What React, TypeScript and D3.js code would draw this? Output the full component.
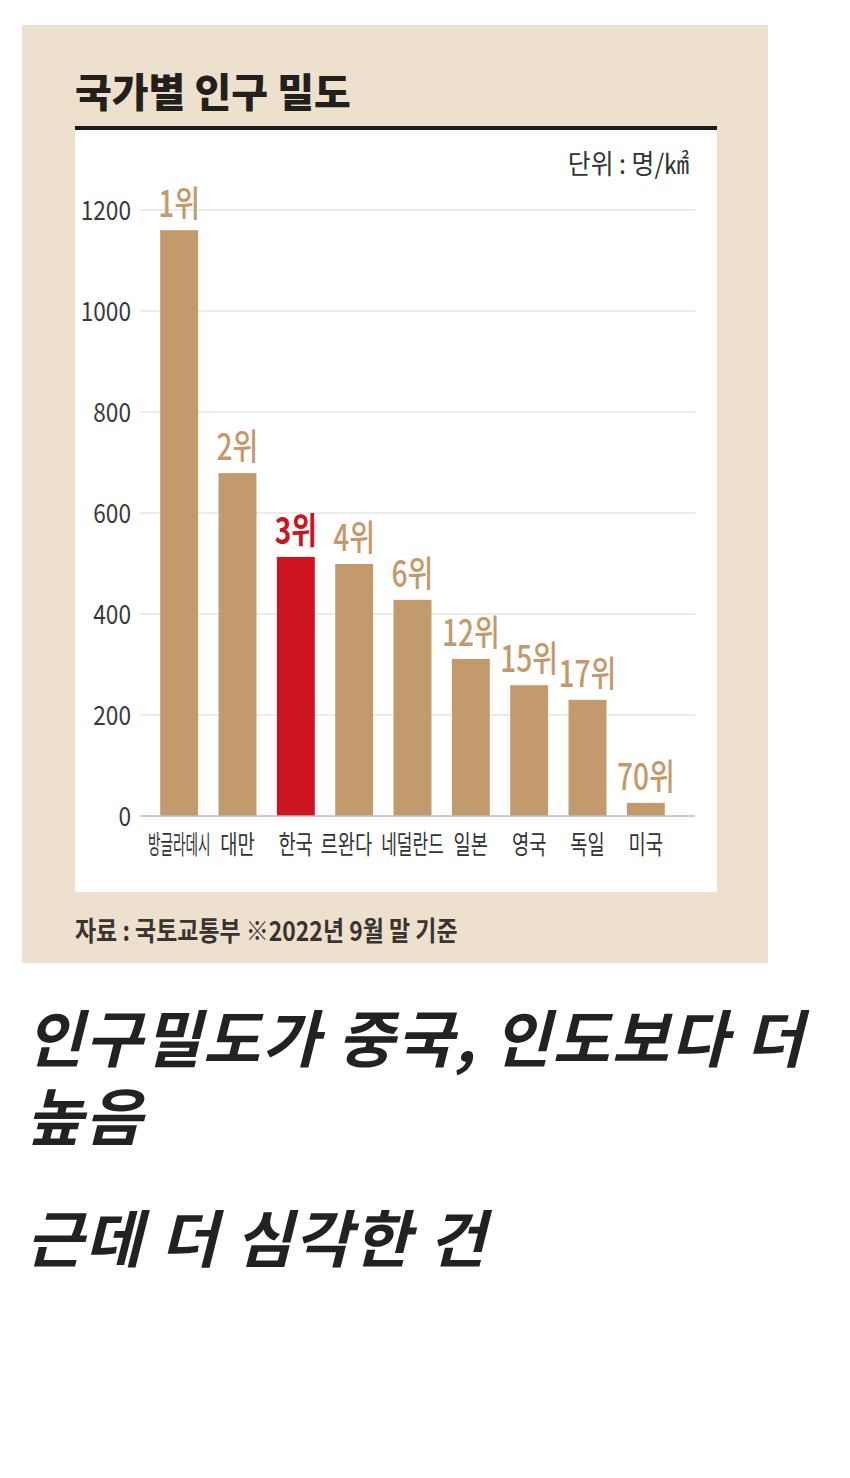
import React from 'react';
import * as d3 from 'd3';

const countries = ['방글라데시', '대만', '한국', '르완다', '네덜란드', '일본', '영국', '독일', '미국'];
const density = [1160, 679, 513, 499, 428, 311, 259, 230, 26];
const ranks = ['1위', '2위', '3위', '4위', '6위', '12위', '15위', '17위', '70위'];
const yTicks = [0, 200, 400, 600, 800, 1000, 1200];
const highlight = '한국';

const title = '국가별 인구 밀도';
const unitLabel = '단위 : 명/㎢';
const sourceLabel = '자료 : 국토교통부 ※2022년 9월 말 기준';
const captionLines = ['인구밀도가 중국, 인도보다 더', '높음'];
const captionLine2 = '근데 더 심각한 건';

const W = 850;
const H = 1478;
const FONT = "'Noto Sans CJK KR', 'Noto Sans', sans-serif";
const BAR = '#c39a6b';
const RED = '#cc1420';
const BEIGE = '#ede1cd';

function CText({ x, y, sx = 1, anchor = 'start', size, weight = 400, fill = '#333', children, style }: any) {
  return (
    <text
      transform={`translate(${x},${y}) scale(${sx},1)`}
      textAnchor={anchor}
      fontSize={size}
      fontWeight={weight}
      fill={fill}
      fontFamily={FONT}
      style={style}
    >
      {children}
    </text>
  );
}

export default function App() {
  const x = d3.scaleBand<string>().domain(countries).range([150, 675]).paddingInner(0.35).paddingOuter(0.175);
  const y = d3.scaleLinear().domain([0, 1200]).range([816, 210]);
  const gridX0 = 140;
  const gridX1 = 695;
  const xLabelSize = 26;
  const charW = xLabelSize * 0.72;
  const maxLabelW = 68;

  // x label layout: center under bar, squeeze long labels, push left on collision
  const labels = countries.map((c) => {
    const natural = c.length * xLabelSize;
    const sx = Math.min(0.72, maxLabelW / natural);
    const w = natural * sx;
    return { c, sx, w, cx: x(c)! + x.bandwidth() / 2 };
  });
  for (let i = labels.length - 2; i >= 0; i--) {
    const right = labels[i].cx + labels[i].w / 2;
    const nextLeft = labels[i + 1].cx - labels[i + 1].w / 2;
    if (right > nextLeft - 4) labels[i].cx -= right - (nextLeft - 4);
  }

  return (
    <div style={{ position: 'absolute', left: 0, top: 0 }}>
      <svg width={W} height={H} style={{ display: 'block' }}>
        <rect x={0} y={0} width={W} height={H} fill="#ffffff" />
        <rect x={22} y={25} width={746} height={938} fill={BEIGE} />
        <CText x={75} y={107} size={40} weight={900} sx={1.0} fill="#231f1c">{title}</CText>
        <rect x={75} y={126} width={642} height={4} fill="#1e1a17" />
        <rect x={75} y={130} width={642} height={762} fill="#ffffff" />
        <CText x={689} y={174} size={27} sx={0.92} anchor="end" fill="#333">{unitLabel}</CText>

        {yTicks.map((t) => (
          <g key={t}>
            {t > 0 && <line x1={gridX0} x2={gridX1} y1={y(t)} y2={y(t)} stroke="#e6e6e6" strokeWidth={1.5} />}
            <CText x={131} y={y(t) + 10} size={27} sx={0.84} anchor="end" fill="#3a3a3a">{t}</CText>
          </g>
        ))}

        {countries.map((c, i) => {
          const isHi = c === highlight;
          const bx = x(c)!;
          const bw = x.bandwidth();
          const top = y(density[i]);
          const lab = labels[i];
          return (
            <g key={c}>
              <rect x={bx} y={top} width={bw} height={y(0) - top} fill={isHi ? RED : BAR} />
              <CText x={bx + bw / 2} y={top - 13} size={36} sx={0.78} anchor="middle" weight={isHi ? 700 : 500} fill={isHi ? RED : BAR}>
                {ranks[i]}
              </CText>
              <CText x={lab.cx} y={854} size={xLabelSize} sx={lab.sx} anchor="middle" fill="#333">{c}</CText>
            </g>
          );
        })}
        <line x1={gridX0} x2={gridX1} y1={y(0)} y2={y(0)} stroke="#bdbdbd" strokeWidth={1.5} />

        <CText x={75} y={941} size={27} sx={0.85} weight={700} fill="#3a3330">{sourceLabel}</CText>

        {captionLines.map((l, i) => (
          <text key={l} x={26} y={1062 + i * 78} fontSize={62} fontWeight={700} fontStyle="italic" letterSpacing={2} fill="#222" fontFamily={FONT}>{l}</text>
        ))}
        <text x={26} y={1262} fontSize={62} fontWeight={700} fontStyle="italic" letterSpacing={2} fill="#222" fontFamily={FONT}>{captionLine2}</text>
      </svg>
    </div>
  );
}
